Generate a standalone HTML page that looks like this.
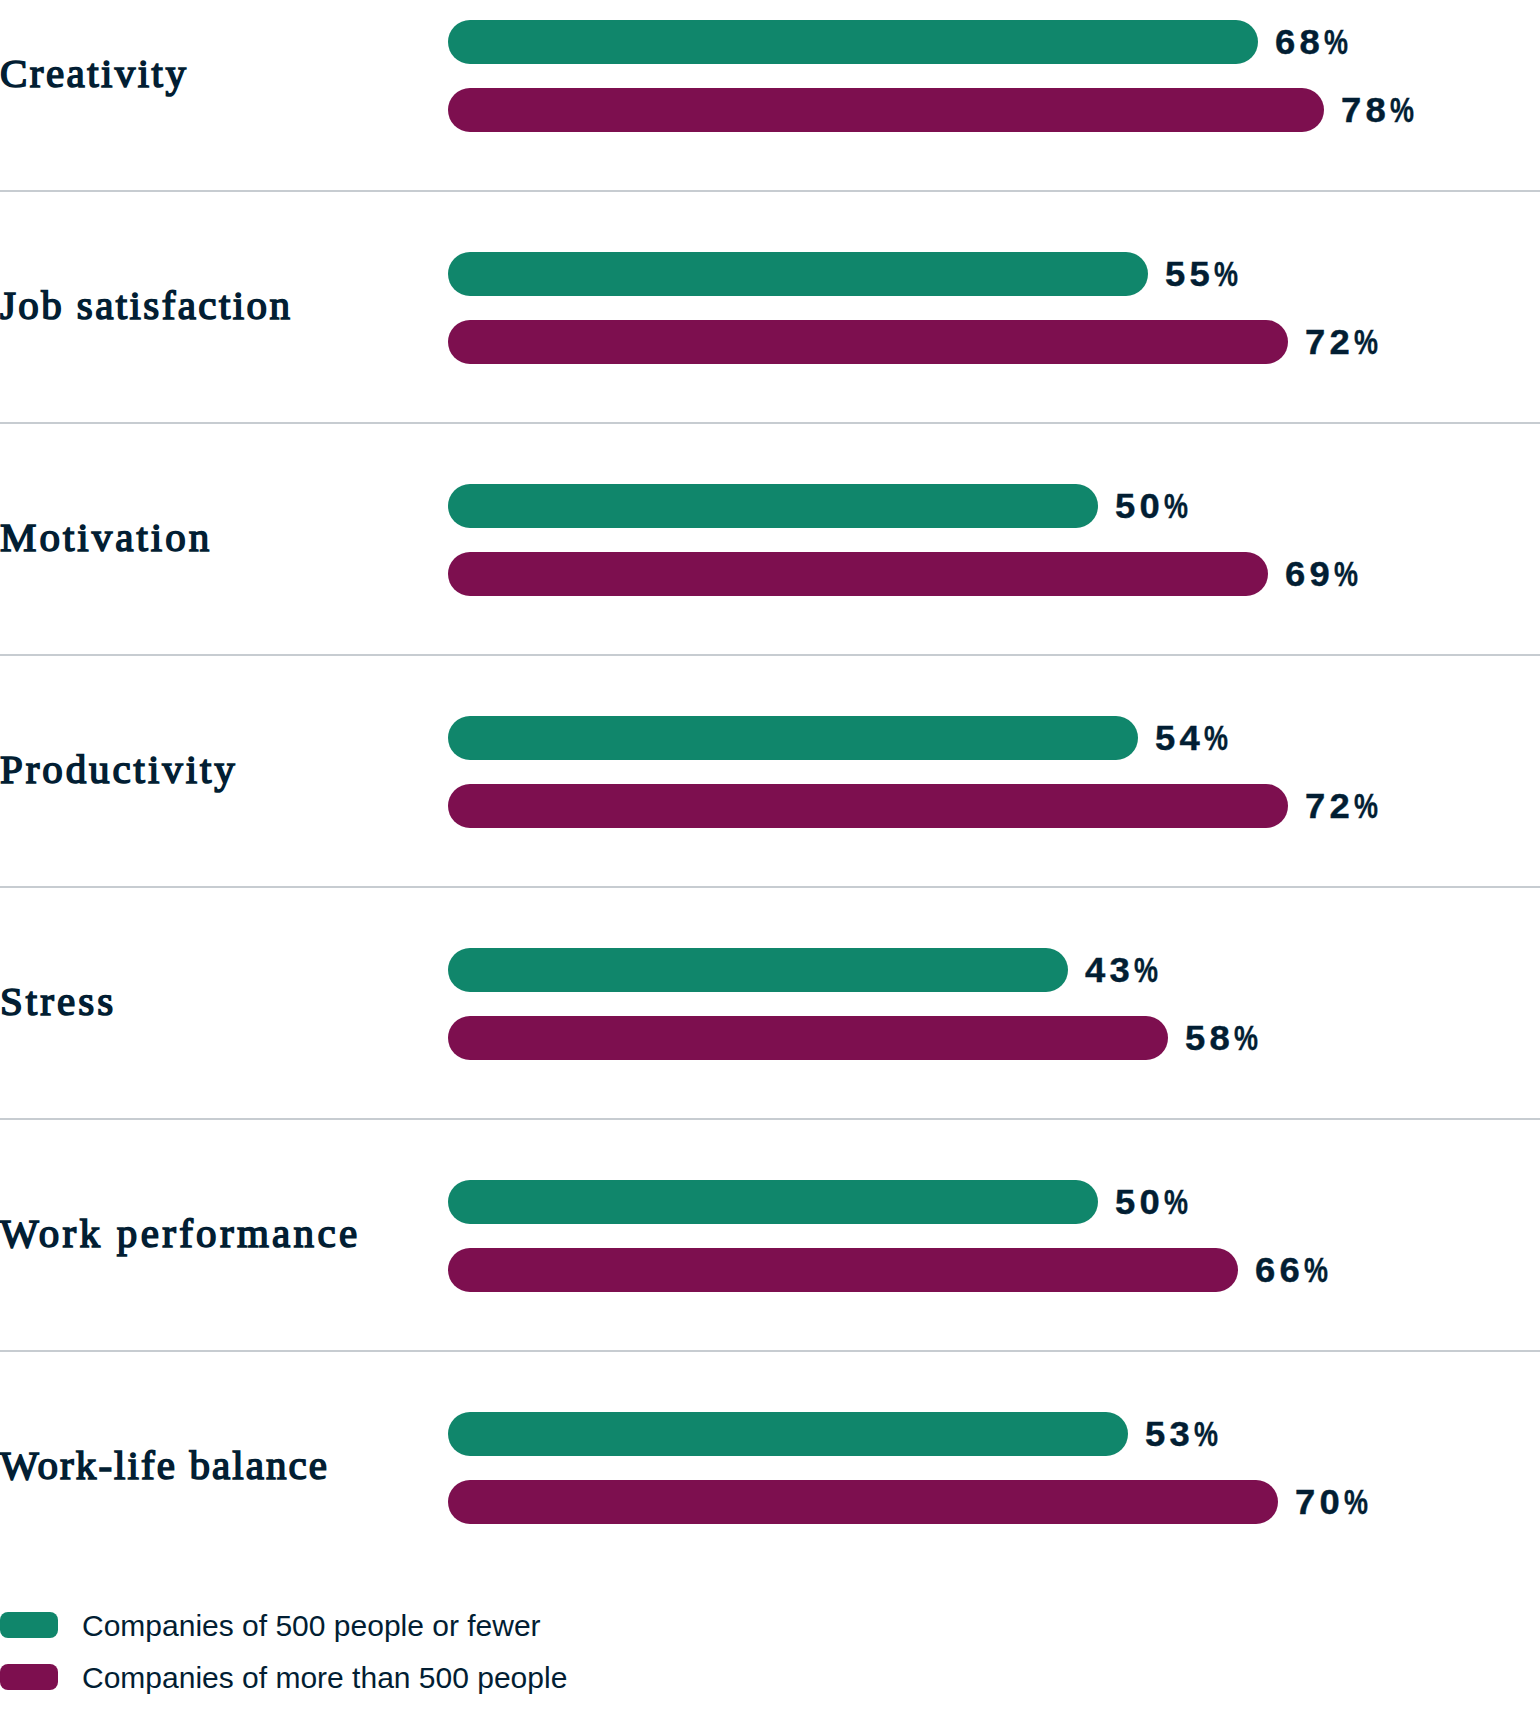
<!DOCTYPE html><html><head><meta charset='utf-8'><style>
*{margin:0;padding:0;box-sizing:border-box}
html,body{width:1540px;height:1720px;background:#fff;overflow:hidden}
body{position:relative;color:#021e33}
.row{position:absolute;left:0;width:1540px;height:192px}
.lab{position:absolute;left:0;font-family:"Liberation Serif",serif;font-weight:400;font-size:41px;letter-spacing:0px;line-height:40px;height:40px;top:53px;white-space:nowrap;-webkit-text-stroke:1.6px #021e33}
.bar{position:absolute;left:448px;height:44px;border-radius:22px}
.g{top:20px;background:#10866b}
.p{top:88px;background:#7d0f4f}
.pct{position:absolute;font-family:"Liberation Sans",sans-serif;font-weight:700;font-size:35px;letter-spacing:4.1px;line-height:44px;height:44px;white-space:nowrap;-webkit-text-stroke:0.4px #021e33;transform:scaleX(1.04);transform-origin:0 0}
.pc{display:inline-block;transform:scaleX(0.74);transform-origin:0 0}
.pg{top:20px}
.pp{top:88px}
.sep{position:absolute;left:0;top:190px;width:1540px;height:2px;background:#c7ccd1}
.leg{position:absolute;left:0;width:700px;height:26px}
.sw{position:absolute;left:0;top:0;width:58px;height:26px;border-radius:8px}
.lt{position:absolute;left:82px;top:1px;font-family:"Liberation Sans",sans-serif;font-size:30px;letter-spacing:0px;line-height:26px;white-space:nowrap}
</style></head><body>
<div class='row' style='top:0px'>
<div class='lab' style='letter-spacing:2.44px'>Creativity</div>
<div class='bar g' style='width:810px'></div>
<div class='pct pg' style='left:1275px'>68<span class='pc'>%</span></div>
<div class='bar p' style='width:876px'></div>
<div class='pct pp' style='left:1341px'>78<span class='pc'>%</span></div>
<div class='sep'></div>
</div>
<div class='row' style='top:232px'>
<div class='lab' style='letter-spacing:2.4px'>Job satisfaction</div>
<div class='bar g' style='width:700px'></div>
<div class='pct pg' style='left:1165px'>55<span class='pc'>%</span></div>
<div class='bar p' style='width:840px'></div>
<div class='pct pp' style='left:1305px'>72<span class='pc'>%</span></div>
<div class='sep'></div>
</div>
<div class='row' style='top:464px'>
<div class='lab' style='letter-spacing:3.0px'>Motivation</div>
<div class='bar g' style='width:650px'></div>
<div class='pct pg' style='left:1115px'>50<span class='pc'>%</span></div>
<div class='bar p' style='width:820px'></div>
<div class='pct pp' style='left:1285px'>69<span class='pc'>%</span></div>
<div class='sep'></div>
</div>
<div class='row' style='top:696px'>
<div class='lab' style='letter-spacing:2.91px'>Productivity</div>
<div class='bar g' style='width:690px'></div>
<div class='pct pg' style='left:1155px'>54<span class='pc'>%</span></div>
<div class='bar p' style='width:840px'></div>
<div class='pct pp' style='left:1305px'>72<span class='pc'>%</span></div>
<div class='sep'></div>
</div>
<div class='row' style='top:928px'>
<div class='lab' style='letter-spacing:3.04px'>Stress</div>
<div class='bar g' style='width:620px'></div>
<div class='pct pg' style='left:1085px'>43<span class='pc'>%</span></div>
<div class='bar p' style='width:720px'></div>
<div class='pct pp' style='left:1185px'>58<span class='pc'>%</span></div>
<div class='sep'></div>
</div>
<div class='row' style='top:1160px'>
<div class='lab' style='letter-spacing:3.31px'>Work performance</div>
<div class='bar g' style='width:650px'></div>
<div class='pct pg' style='left:1115px'>50<span class='pc'>%</span></div>
<div class='bar p' style='width:790px'></div>
<div class='pct pp' style='left:1255px'>66<span class='pc'>%</span></div>
<div class='sep'></div>
</div>
<div class='row' style='top:1392px'>
<div class='lab' style='letter-spacing:2.08px'>Work-life balance</div>
<div class='bar g' style='width:680px'></div>
<div class='pct pg' style='left:1145px'>53<span class='pc'>%</span></div>
<div class='bar p' style='width:830px'></div>
<div class='pct pp' style='left:1295px'>70<span class='pc'>%</span></div>
</div>
<div class='leg' style='top:1612px'><div class='sw' style='background:#10866b'></div><div class='lt'>Companies of 500 people or fewer</div></div>
<div class='leg' style='top:1664px'><div class='sw' style='background:#7d0f4f'></div><div class='lt'>Companies of more than 500 people</div></div>
</body></html>
